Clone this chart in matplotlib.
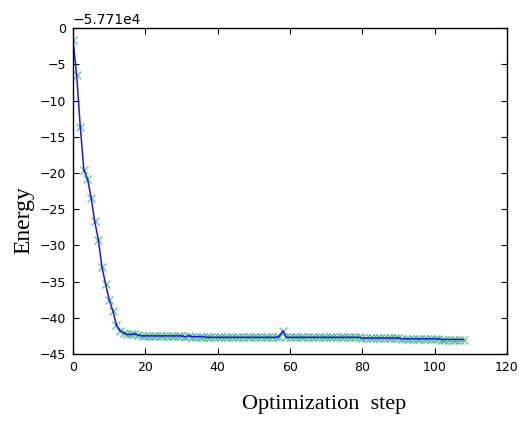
import matplotlib
matplotlib.use("Agg")
import numpy as np
import matplotlib.pyplot as plt

# energies relative to the -5.771e4 offset
e_offset = -57710.0
head = [-1.6, -6.5, -13.6, -19.6, -20.8, -23.4, -26.7, -29.2, -33.0, -35.3,
        -37.5, -39.0, -41.0, -41.8, -42.1, -42.3, -42.3, -42.2, -42.4]
tail = [
    -42.5, -42.5, -42.5, -42.5, -42.5, -42.5, -42.5, -42.5, -42.5, -42.5,  # 19-28
    -42.5, -42.5, -42.6, -42.5, -42.6, -42.6, -42.6, -42.6, -42.7, -42.7,  # 29-38
    -42.7, -42.7, -42.7, -42.7, -42.7, -42.7, -42.7, -42.7, -42.7, -42.7,  # 39-48
    -42.7, -42.7, -42.7, -42.7, -42.7, -42.7, -42.7, -42.7, -42.6, -41.8,  # 49-58
    -42.7, -42.7, -42.7, -42.7, -42.7, -42.7, -42.7, -42.7, -42.7, -42.7,  # 59-68
    -42.7, -42.7, -42.7, -42.7, -42.7, -42.7, -42.7, -42.7, -42.7, -42.7,  # 69-78
    -42.7, -42.8, -42.8, -42.8, -42.8, -42.8, -42.8, -42.8, -42.8, -42.8,  # 79-88
    -42.8, -42.8, -42.9, -42.9, -42.9, -42.9, -42.9, -42.9, -42.9, -42.9,  # 89-98
    -42.9, -42.9, -42.9, -43.0, -43.0, -43.0, -43.0, -43.0, -43.0, -43.0,  # 99-108
]
rel_energy = np.array(head + tail)
steps = np.arange(len(rel_energy))
energy = e_offset + rel_energy

plt.rcParams["font.family"] = "DejaVu Sans"

fig = plt.figure(figsize=(5.19, 4.26), dpi=100)
ax = fig.add_axes([0.1407, 0.169, 0.836, 0.765])

ax.plot(steps, energy, "x", color="#2fae7a", alpha=0.7, ms=5.5, mew=1.0)
ax.plot(steps, energy, "-", color="#1a1adf", lw=1.1)

ax.set_xlim(0, 120)
ax.set_ylim(e_offset - 45, e_offset)
ax.set_xticks(np.arange(0, 121, 20))
ax.set_yticks(e_offset + np.arange(-45, 1, 5))
fmt = ax.yaxis.get_major_formatter()
fmt.set_useOffset(e_offset)
ax.yaxis.get_offset_text().set_fontsize(10)

ax.tick_params(direction="in", top=True, right=True, labelsize=9, length=4, pad=5)
for sp in ax.spines.values():
    sp.set_linewidth(1.0)

ax.set_xlabel("Optimization  step", family="Liberation Serif", fontsize=16)
ax.xaxis.set_label_coords(0.578, -0.126)
ax.set_ylabel("Energy", family="Liberation Serif", fontsize=17)
ax.yaxis.set_label_coords(-0.088, 0.411)

fig.savefig("out.png", dpi=100)
